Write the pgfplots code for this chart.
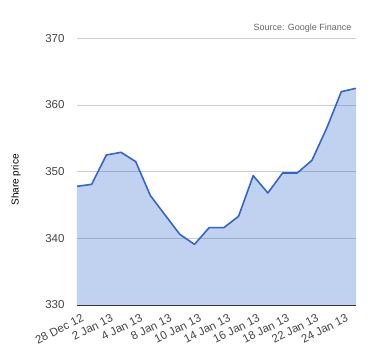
\documentclass[border=0pt]{standalone}
\usepackage{pgfplots}
\pgfplotsset{compat=1.18}
\usepackage{fontspec}
\setmainfont{Liberation Sans}
\definecolor{gblue}{HTML}{3366CC}
\definecolor{tgray}{HTML}{444444}
\definecolor{sgray}{HTML}{666666}
\definecolor{ggrid}{HTML}{CCCCCC}
\definecolor{axline}{HTML}{333333}
\begin{document}
\begin{tikzpicture}
\path[use as bounding box] (0,0) rectangle (380pt,360pt);
\begin{axis}[
  at={(77pt,55pt)}, anchor=south west,
  scale only axis, width=279pt, height=266.7pt,
  xmin=0, xmax=19, ymin=330, ymax=370,
  ytick={330,340,350,360,370},
  xtick={0,2,4,6,8,10,12,14,16,18},
  xticklabels={28 Dec 12,2 Jan 13,4 Jan 13,8 Jan 13,10 Jan 13,14 Jan 13,16 Jan 13,18 Jan 13,22 Jan 13,24 Jan 13},
  /pgf/number format/assume math mode=true,
  ymajorgrids, major grid style={ggrid, line width=0.8pt},
  axis x line*=bottom, axis y line*=left,
  x axis line style={axline, line width=1pt, -},
  y axis line style={draw=none},
  major tick length=0pt,
  tick label style={font=\fontsize{11.5}{13}\selectfont, text=tgray},
  yticklabel style={anchor=east, xshift=-9pt},
  xticklabel style={rotate=27, anchor=north east, font=\fontsize{11.5}{13}\selectfont, xshift=3pt, yshift=-6pt},
  ylabel={Share price},
  ylabel style={font=\fontsize{11.5}{13}\selectfont, text=tgray},
  every axis y label/.style={at={(axis description cs:-0.2186,0.469)}, rotate=90, anchor=center},
  clip=false,
]
\addplot[draw=none, fill=gblue, fill opacity=0.3] coordinates {
(0,347.8) (1,348.1) (2,352.5) (3,352.9) (4,351.5) (5,346.4) (6,343.5) (7,340.6) (8,339.1) (9,341.6)
(10,341.6) (11,343.3) (12,349.4) (13,346.8) (14,349.8) (15,349.8) (16,351.7) (17,356.5) (18,362.0) (19,362.5)
} \closedcycle;
\addplot[gblue, line width=1.6pt, line join=round] coordinates {
(0,347.8) (1,348.1) (2,352.5) (3,352.9) (4,351.5) (5,346.4) (6,343.5) (7,340.6) (8,339.1) (9,341.6)
(10,341.6) (11,343.3) (12,349.4) (13,346.8) (14,349.8) (15,349.8) (16,351.7) (17,356.5) (18,362.0) (19,362.5)
};
\node[anchor=base east, font=\fontsize{9}{11}\selectfont, text=sgray] at (rel axis cs:1,1) [xshift=-1pt, yshift=8pt] {Source: Google Finance};
\end{axis}
\end{tikzpicture}
\end{document}
